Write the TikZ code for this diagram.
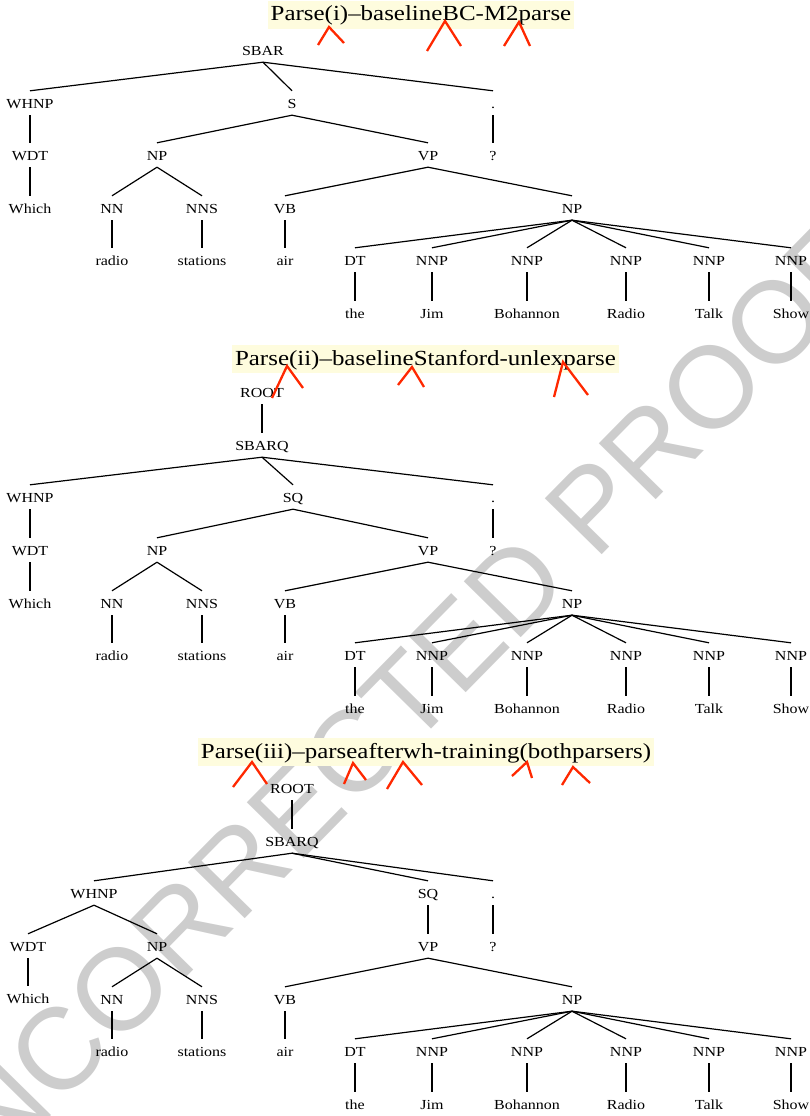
\documentclass[tikz,border=0pt]{standalone}
\usepackage{fontspec}
\setmainfont[FakeStretch=1.16]{Liberation Serif}
\newfontfamily\proofmarkfont{Liberation Sans}
\usetikzlibrary{calc}
\definecolor{hlYellow}{RGB}{254,252,222}
\definecolor{proofRed}{RGB}{255,40,0}
\definecolor{markGray}{RGB}{205,205,205}
\tikzset{
  cat/.style={inner xsep=1pt,inner ysep=2pt,text height=15.6pt,text depth=4.4pt,font=\fontsize{13.8}{15}\selectfont},
  parsetitle/.style={fill=hlYellow,anchor=base,inner xsep=3pt,inner ysep=3.5pt,text height=16.5pt,text depth=4.5pt,font=\fontsize{21.5}{24}\selectfont},
  caret/.style={draw=proofRed,line width=2.3pt},
  branch/.style={line width=1.2pt}
}
\newcommand{\ProofCaret}[3]{\draw[caret] #1 -- #2 -- #3;}
\newcommand{\NPSub}[2]{%
  \node[cat] (#1-np) at (157,#2) {NP};
  \node[cat] (#1-nn) at (112,#2+53) {NN};
  \node[cat] (#1-nns) at (202,#2+53) {NNS};
  \node[cat] (#1-radio) at (112,#2+105) {radio};
  \node[cat] (#1-stations) at (202,#2+105) {stations};
  \draw[branch] (#1-np.south) -- (#1-nn.north);
  \draw[branch] (#1-np.south) -- (#1-nns.north);
  \draw[branch] (#1-nn.south) -- (#1-radio.north);
  \draw[branch] (#1-nns.south) -- (#1-stations.north);}
\newcommand{\VPSub}[2]{%
  \node[cat] (#1-vp) at (428,#2) {VP};
  \node[cat] (#1-vb) at (285,#2+53) {VB};
  \node[cat] (#1-obj) at (572,#2+53) {NP};
  \node[cat] (#1-air) at (285,#2+105) {air};
  \draw[branch] (#1-vp.south) -- (#1-vb.north);
  \draw[branch] (#1-vp.south) -- (#1-obj.north);
  \draw[branch] (#1-vb.south) -- (#1-air.north);
  \foreach \tag/\word/\xx [count=\i] in {DT/the/355,NNP/Jim/432,NNP/Bohannon/527,NNP/Radio/626,NNP/Talk/709,NNP/Show/791}{
    \node[cat] (#1-t\i) at (\xx,#2+105) {\tag};
    \node[cat] (#1-w\i) at (\xx,#2+158) {\word};
    \draw[branch] (#1-obj.south) -- (#1-t\i.north);
    \draw[branch] (#1-t\i.south) -- (#1-w\i.north);
  }}

\begin{document}
\begin{tikzpicture}[x=1pt,y=-1pt]
\useasboundingbox (0,0) rectangle (810,1116);
\node[markGray,rotate=45.5,font=\proofmarkfont\fontsize{116}{116}\selectfont] (watermark) at (384,720) {UNCORRECTED PROOF};

% parse (i)
\node[parsetitle] (ti) at (421,21) {Parse(i)–baselineBC-M2parse};
\node[cat] (a-sbar) at (263,50) {SBAR};
\node[cat] (a-whnp) at (30,103) {WHNP};
\node[cat] (a-s) at (292,103) {S};
\node[cat] (a-dot) at (493,103) {.};
\node[cat] (a-wdt) at (30,155) {WDT};
\node[cat] (a-q) at (493,155) {?};
\node[cat] (a-which) at (30,208) {Which};
\NPSub{a}{155}
\VPSub{a}{155}
\draw[branch] (a-sbar.south) -- (a-whnp.north);
\draw[branch] (a-sbar.south) -- (a-s.north);
\draw[branch] (a-sbar.south) -- (a-dot.north);
\draw[branch] (a-whnp.south) -- (a-wdt.north);
\draw[branch] (a-wdt.south) -- (a-which.north);
\draw[branch] (a-s.south) -- (a-np.north);
\draw[branch] (a-s.south) -- (a-vp.north);
\draw[branch] (a-dot.south) -- (a-q.north);

% parse (ii)
\node[parsetitle] (tii) at (425.5,365) {Parse(ii)–baselineStanford-unlexparse};
\node[cat] (b-root) at (262,392) {ROOT};
\node[cat] (b-sbarq) at (262,445) {SBARQ};
\node[cat] (b-whnp) at (30,497) {WHNP};
\node[cat] (b-sq) at (293,497) {SQ};
\node[cat] (b-dot) at (493,497) {.};
\node[cat] (b-wdt) at (30,550) {WDT};
\node[cat] (b-q) at (493,550) {?};
\node[cat] (b-which) at (30,603) {Which};
\NPSub{b}{550}
\VPSub{b}{550}
\draw[branch] (b-root.south) -- (b-sbarq.north);
\draw[branch] (b-sbarq.south) -- (b-whnp.north);
\draw[branch] (b-sbarq.south) -- (b-sq.north);
\draw[branch] (b-sbarq.south) -- (b-dot.north);
\draw[branch] (b-whnp.south) -- (b-wdt.north);
\draw[branch] (b-wdt.south) -- (b-which.north);
\draw[branch] (b-sq.south) -- (b-np.north);
\draw[branch] (b-sq.south) -- (b-vp.north);
\draw[branch] (b-dot.south) -- (b-q.north);

% parse (iii)
\node[parsetitle] (tiii) at (426,758) {Parse(iii)–parseafterwh-training(bothparsers)};
\node[cat] (c-root) at (292,788) {ROOT};
\node[cat] (c-sbarq) at (292,841) {SBARQ};
\node[cat] (c-whnp) at (94,893) {WHNP};
\node[cat] (c-sq) at (428,893) {SQ};
\node[cat] (c-dot) at (493,893) {.};
\node[cat] (c-wdt) at (28,946) {WDT};
\node[cat] (c-q) at (493,946) {?};
\node[cat] (c-which) at (28,998) {Which};
\NPSub{c}{946}
\VPSub{c}{946}
\draw[branch] (c-root.south) -- (c-sbarq.north);
\draw[branch] (c-sbarq.south) -- (c-whnp.north);
\draw[branch] (c-sbarq.south) -- (c-sq.north);
\draw[branch] (c-sbarq.south) -- (c-dot.north);
\draw[branch] (c-whnp.south) -- (c-wdt.north);
\draw[branch] (c-whnp.south) -- (c-np.north);
\draw[branch] (c-wdt.south) -- (c-which.north);
\draw[branch] (c-sq.south) -- (c-vp.north);
\draw[branch] (c-dot.south) -- (c-q.north);

% proof marks
\ProofCaret{(318,45)}{(329,27)}{(344,43)}
\ProofCaret{(427,51)}{(445,21)}{(461,46)}
\ProofCaret{(504,46)}{(519,22)}{(530,46)}
\ProofCaret{(272,398)}{(287,366)}{(303,388)}
\ProofCaret{(398,385)}{(412,367)}{(424,387)}
\ProofCaret{(554,397)}{(563,362)}{(588,395)}
\ProofCaret{(233,787)}{(252,762)}{(267,784)}
\ProofCaret{(344,784)}{(353,763)}{(366,780)}
\ProofCaret{(387,789)}{(403,762)}{(422,785)}
\ProofCaret{(512,776)}{(527,762)}{(532,778)}
\ProofCaret{(562,785)}{(573,767)}{(590,783)}
\end{tikzpicture}
\end{document}
